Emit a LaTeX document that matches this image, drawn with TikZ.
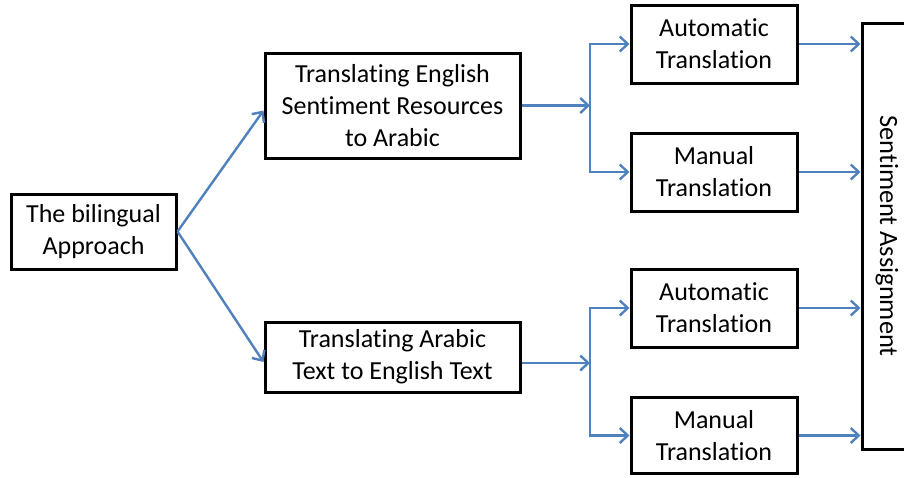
\documentclass[tikz,border=0pt]{standalone}
\usepackage{fontspec}
\setmainfont{Carlito}[Ligatures=NoCommon]
\usetikzlibrary{arrows.meta}

\definecolor{arrblue}{RGB}{79,129,189}

\tikzset{
  box/.style={draw=black, line width=1.5pt, align=center, inner sep=0pt,
    font=\fontsize{13pt}{16pt}\selectfont, text=black},
  conn/.style={draw=arrblue, line width=1.2pt,
    -{Straight Barb[length=4pt,width=7.5pt,line width=1.2pt]}},
  line/.style={draw=arrblue, line width=1.2pt}
}

\begin{document}
\begin{tikzpicture}[x=0.5pt,y=-0.5pt]
\useasboundingbox (0,0) rectangle (904,477);

\coordinate (j1) at (590,105.5);
\coordinate (j2) at (590,363);

\node[box, minimum width=82.5pt, minimum height=37.5pt] (bil) at (93.5,231.5) {The bilingual\\Approach};
\node[box, minimum width=127.5pt, minimum height=52.5pt] (tre) at (392.5,105.5) {Translating English\\Sentiment Resources\\to Arabic};
\node[box, minimum width=127.5pt, minimum height=35pt] (tra) at (392.5,357) {Translating Arabic\\Text to English Text};
\node[box, minimum width=83pt, minimum height=39pt] (at1) at (714,44) {Automatic\\Translation};
\node[box, minimum width=83pt, minimum height=39pt] (mt1) at (714,172) {Manual\\Translation};
\node[box, minimum width=83pt, minimum height=39pt] (at2) at (714,308) {Automatic\\Translation};
\node[box, minimum width=83pt, minimum height=38pt] (mt2) at (714,435.5) {Manual\\Translation};
\node[box, minimum width=22.5pt, minimum height=213pt] (sa) at (884.5,236) {};
\node[font=\fontsize{13.2pt}{16pt}\selectfont, text=black, rotate=-90] at (887,236) {Sentiment Assignment};

\draw[conn] (bil.east) -- ([yshift=-2.5pt]tre.west);
\draw[conn] (bil.east) -- ([yshift=-2.5pt]tra.west);

\draw[conn] (tre.east) -- (j1);
\draw[conn] (j1) |- (at1.west);
\draw[conn] (j1) |- (mt1.west);
\draw[conn] (tra.east |- j2) -- (j2);
\draw[conn] (j2) |- (at2.west);
\draw[conn] (j2) |- (mt2.west);

\draw[conn] (at1.east) -- (sa.west |- at1.east);
\draw[conn] (mt1.east) -- (sa.west |- mt1.east);
\draw[conn] (at2.east) -- (sa.west |- at2.east);
\draw[conn] (mt2.east) -- (sa.west |- mt2.east);

\end{tikzpicture}
\end{document}
